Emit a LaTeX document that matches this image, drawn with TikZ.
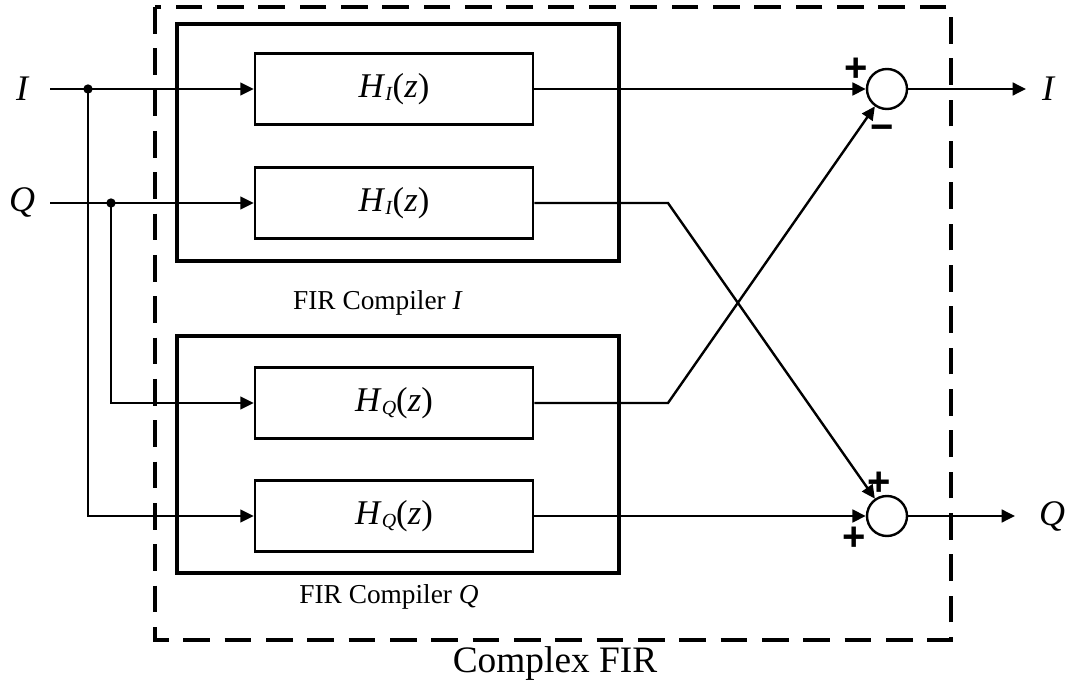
\documentclass[tikz,border=0pt]{standalone}
\usepackage{fontspec}
\setmainfont{Liberation Serif}
\setsansfont{Liberation Sans}
\usepackage{tikz}
\usetikzlibrary{arrows.meta, positioning, calc}

\tikzset{
    wire/.style={line width=1.8pt},
    arr/.style={wire, -{Triangle[length=10pt, width=9.5pt]}},
    filt/.style={draw, line width=2pt, minimum width=208.5pt, minimum height=53pt, inner sep=0pt, font=\fontsize{26}{26}\selectfont},
    sumnode/.style={circle, draw, line width=1.8pt, minimum size=30pt, inner sep=0pt},
    junc/.style={circle, fill=black, inner sep=0pt, minimum size=7pt},
    sgn/.style={font=\fontsize{30}{30}\sffamily\bfseries\selectfont, inner sep=0pt},
    sig/.style={font=\fontsize{27}{27}\selectfont\itshape}
}
\newcommand{\hsub}[1]{\textit{H}\raisebox{-0.2ex}{\fontsize{15}{15}\selectfont\textit{#1}}(\textit{z})}

\begin{document}
\begin{tikzpicture}[x=0.75pt, y=-0.75pt]
        \useasboundingbox (0,0) rectangle (1068,684);

        % frames
        \draw[line width=2.3pt, dash pattern=on 20pt off 11pt] (155,7) rectangle (951,640);
        \draw[line width=2.3pt] (177,24) rectangle (619,261);
        \draw[line width=2.3pt] (177,336) rectangle (619,573);

        \node[filt] (hI1) at (394,89) {\hsub{I}};
        \node[filt] (hI2) at (394,203) {\hsub{I}};
        \node[filt] (hQ1) at (394,403) {\hsub{Q}};
        \node[filt] (hQ2) at (394,516) {\hsub{Q}};

        \node[sumnode] (sumI) at (887,89) {};
        \node[sumnode] (sumQ) at (887,516) {};

        \node[sig] (lblIin) at (22,89) {I};
        \node[sig] (lblQin) at (22,203) {Q};
        \node[sig] (lblIout) at (1048,89) {I};
        \node[sig] (lblQout) at (1052,516) {Q};

        \coordinate (inI) at (50,89);
        \coordinate (inQ) at (50,203);
        \coordinate (outI) at (1026,89);
        \coordinate (outQ) at (1015,516);
        \coordinate (bendQ) at (668,203);
        \coordinate (bendI) at (668,403);

        \node[junc] (jI) at (88,89) {};
        \node[junc] (jQ) at (111,203) {};

        \draw[arr] (inI) -- (hI1.west);
        \draw[arr] (inQ) -- (hI2.west);
        \draw[arr] (jQ.center) |- (hQ1.west);
        \draw[arr] (jI.center) |- (hQ2.west);

        \draw[arr] (hI1.east) -- (sumI);
        \draw[arr] (hQ2.east) -- (sumQ);
        \draw[arr] (hI2.east) -- (bendQ) -- (sumQ);
        \draw[arr] (hQ1.east) -- (bendI) -- (sumI);

        \draw[arr] (sumI) -- (outI);
        \draw[arr] (sumQ) -- (outQ);

        \node[sgn] (pI) at (856,70) {+};
        \node[sgn] (mI) at (882,133) {−};
        \node[sgn] (pQa) at (879,484) {+};
        \node[sgn] (pQb) at (854,539) {+};

        \node[font=\fontsize{20.5}{20.5}\selectfont] (fcI) at (378,303) {FIR Compiler \textit{I}};
        \node[font=\fontsize{20.5}{20.5}\selectfont] (fcQ) at (389,597) {FIR Compiler \textit{Q}};
        \node[font=\fontsize{28}{28}\selectfont] (cfir) at (555,664) {Complex FIR};
\end{tikzpicture}
\end{document}
